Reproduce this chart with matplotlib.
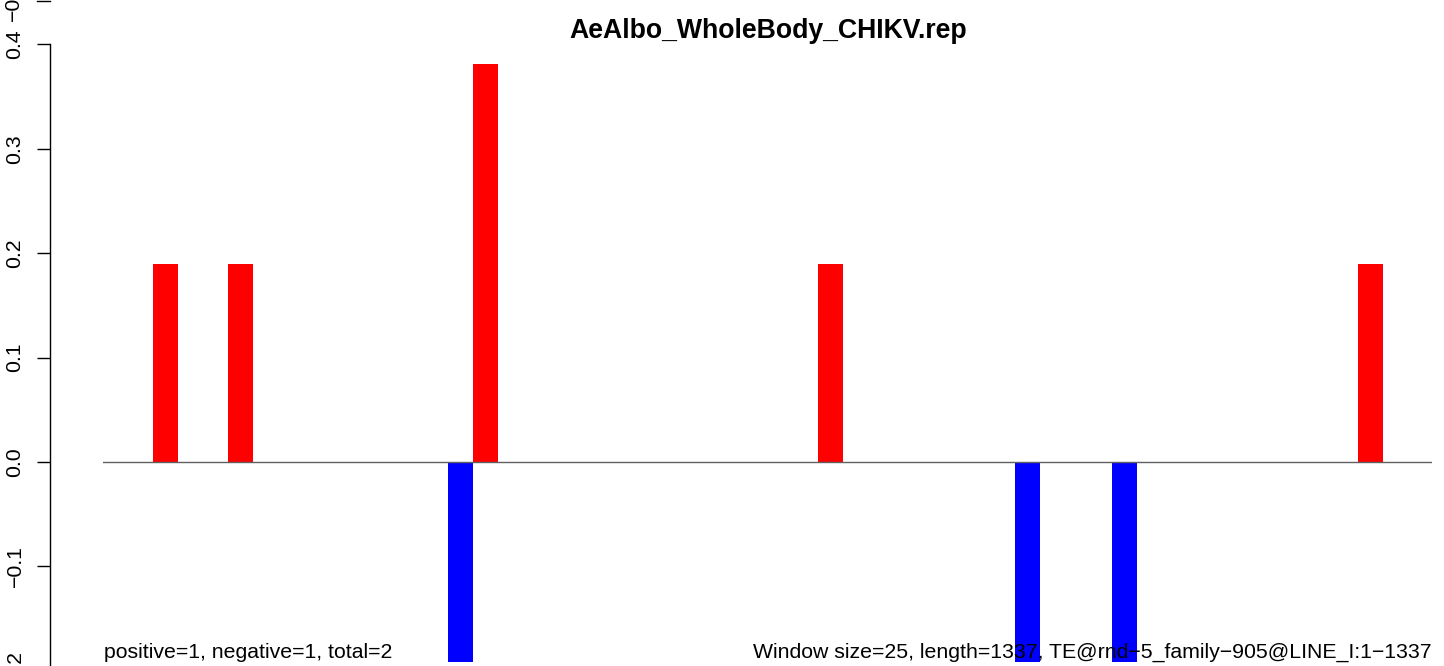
import matplotlib
matplotlib.use('Agg')
from matplotlib import pyplot as plt
from matplotlib.lines import Line2D

plt.rcParams['font.family'] = ['Liberation Sans', 'DejaVu Sans']

TITLE = 'AeAlbo_WholeBody_CHIKV.rep'
LEFT_NOTE = 'positive=1, negative=1, total=2'
RIGHT_NOTE = 'Window size=25, length=1337, TE@rnd\u22125_family\u2212905@LINE_I:1\u22121337'

# window start positions and signed values
win_start = [50, 125, 345, 370, 715, 912, 1009, 1255]
win_value = [0.19, 0.19, -0.1916, 0.381, 0.19, -0.1916, -0.1916, 0.19]
win_size = 25
x_max = 1329

y_ticks = [-0.2, -0.1, 0.0, 0.1, 0.2, 0.3, 0.4]
y_tick_labels = ['\u22120.2', '\u22120.1', '0.0', '0.1', '0.2', '0.3', '0.4']

FS = 15.3


def plot_windows():
    W, H = 1444, 666
    fig = plt.figure(figsize=(W / 100, H / 100), dpi=100)

    # px per unit on y: 1044, zero line at y=462 px from top
    ylo, yhi = -0.25, 0.45
    top_px = 462 - 1044 * yhi
    bot_px = 462 - 1044 * ylo
    ax = fig.add_axes([103 / W, (H - bot_px) / H, 1329 / W, (bot_px - top_px) / H])
    ax.set_xlim(0, x_max)
    ax.set_ylim(ylo, yhi)

    colors = ['red' if v > 0 else 'blue' for v in win_value]
    ax.bar(win_start, win_value, width=win_size, align='edge', color=colors, linewidth=0)
    ax.axhline(0, color='#606060', linewidth=1.0, zorder=3)

    for side in ['top', 'right', 'bottom']:
        ax.spines[side].set_visible(False)
    ax.spines['left'].set_position(('outward', 53 * 0.72))
    ax.spines['left'].set_bounds(-0.2, 0.4)
    ax.spines['left'].set_linewidth(1.0)
    ax.set_xticks([])
    ax.set_yticks(y_ticks)
    ax.set_yticklabels(y_tick_labels, rotation=90, va='center', fontsize=FS)
    ax.tick_params(axis='y', length=13 * 0.72, width=1.0, pad=9)

    fig.text(768 / W, (H - 38) / H, TITLE, fontsize=19.2, fontweight='bold',
             ha='center', va='baseline')

    fig.text(104 / W, (H - 658) / H, LEFT_NOTE, fontsize=FS, ha='left', va='baseline')
    fig.text(1432 / W, (H - 658) / H, RIGHT_NOTE, fontsize=FS, ha='right', va='baseline')

    # piece of the panel above, cut by the frame
    fig.text(13 / W, 1.0, '\u22120.2', fontsize=FS, rotation=90, ha='center', va='center')
    fig.add_artist(Line2D([37 / W, 50 / W], [1.0 - 0.5 / H, 1.0 - 0.5 / H], color='black', linewidth=1.0))
    return fig, ax


def main():
    fig, ax = plot_windows()
    plt.savefig('out.png', dpi=100)


main()
